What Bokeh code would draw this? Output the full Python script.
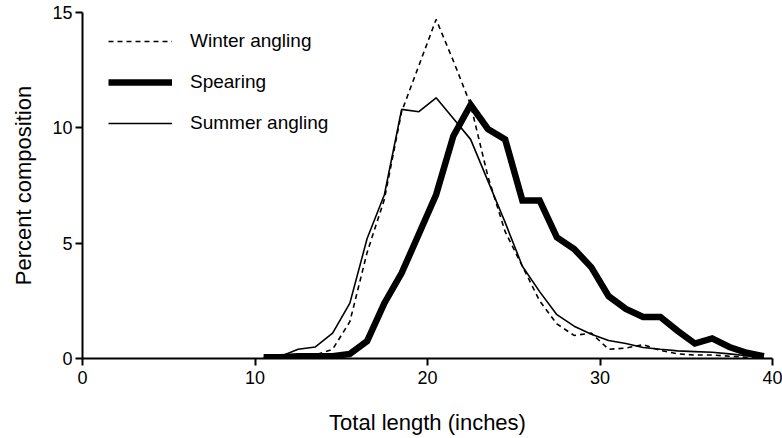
from bokeh.plotting import figure
from bokeh.models import Range1d, Legend, LegendItem, FixedTicker
from bokeh.embed import file_html
from bokeh.resources import INLINE

length = [10.5, 11.5, 12.5, 13.5, 14.5, 15.5, 16.5, 17.5, 18.5, 19.5,
          20.5, 21.5, 22.5, 23.5, 24.5, 25.5, 26.5, 27.5, 28.5, 29.5,
          30.5, 31.5, 32.5, 33.5, 34.5, 35.5, 36.5, 37.5, 38.5, 39.5]
winter = [0.0, 0.05, 0.1, 0.15, 0.4, 1.6, 4.6, 6.9, 10.7, 12.7,
          14.7, 12.9, 11.0, 7.9, 5.5, 4.0, 2.5, 1.5, 1.0, 1.1,
          0.4, 0.45, 0.6, 0.35, 0.2, 0.15, 0.15, 0.1, 0.05, 0.0]
summer = [0.05, 0.1, 0.4, 0.5, 1.1, 2.4, 5.2, 7.1, 10.8, 10.7,
          11.3, 10.4, 9.5, 7.7, 5.9, 4.0, 2.9, 1.9, 1.4, 1.05,
          0.78, 0.65, 0.48, 0.4, 0.33, 0.3, 0.27, 0.2, 0.12, 0.05]
spearing = [0.05, 0.05, 0.1, 0.1, 0.1, 0.2, 0.75, 2.4, 3.7, 5.4,
            7.1, 9.65, 11.0, 9.95, 9.5, 6.85, 6.85, 5.25, 4.75, 3.95,
            2.7, 2.15, 1.8, 1.8, 1.2, 0.65, 0.87, 0.5, 0.25, 0.1]
x_ticks = [0, 10, 20, 30, 40]
y_ticks = [0, 5, 10, 15]
labels = ["Winter angling", "Spearing", "Summer angling"]

FONT = "Liberation Sans"

p = figure(width=782, height=438, output_backend="svg", toolbar_location=None,
           x_range=Range1d(0, 40), y_range=Range1d(0, 15),
           min_border_left=82, min_border_right=10, min_border_top=12, min_border_bottom=80)
p.outline_line_color = None
p.grid.grid_line_color = None
p.background_fill_color = "white"

r_w = p.line(length, winter, line_color="black", line_width=1.6, line_dash="5 4")
r_s = p.line(length, spearing, line_color="black", line_width=6.5, line_join="miter")
r_m = p.line(length, summer, line_color="black", line_width=1.6)

for ax in (p.xaxis[0], p.yaxis[0]):
    ax.axis_line_color = "black"
    ax.axis_line_width = 2
    ax.major_tick_line_color = "black"
    ax.major_tick_line_width = 2
    ax.major_tick_in = 0
    ax.major_tick_out = 7
    ax.minor_tick_line_color = None
    ax.major_label_text_font = FONT
    ax.major_label_text_font_size = "18px"
    ax.major_label_text_color = "black"
    ax.axis_label_text_font = FONT
    ax.axis_label_text_font_size = "22px"
    ax.axis_label_text_font_style = "normal"
    ax.axis_label_text_color = "black"

p.xaxis[0].ticker = FixedTicker(ticks=x_ticks)
p.yaxis[0].ticker = FixedTicker(ticks=y_ticks)
p.xaxis[0].axis_label = "Total length (inches)"
p.yaxis[0].axis_label = "Percent composition"
p.xaxis[0].axis_label_standoff = 23
p.yaxis[0].axis_label_standoff = 13
p.xaxis[0].major_label_standoff = 5
p.yaxis[0].major_label_standoff = 3

legend = Legend(items=[LegendItem(label=labels[0], renderers=[r_w]),
                       LegendItem(label=labels[1], renderers=[r_s]),
                       LegendItem(label=labels[2], renderers=[r_m])],
                location=(26, 224), orientation="vertical",
                glyph_width=64, glyph_height=22, label_height=22,
                label_standoff=18, spacing=19, padding=0, margin=0,
                border_line_color=None, background_fill_alpha=0,
                label_text_font=FONT, label_text_font_size="19px",
                label_text_color="black")
p.add_layout(legend, "center")

open("out.html", "w").write(file_html(p, INLINE))
